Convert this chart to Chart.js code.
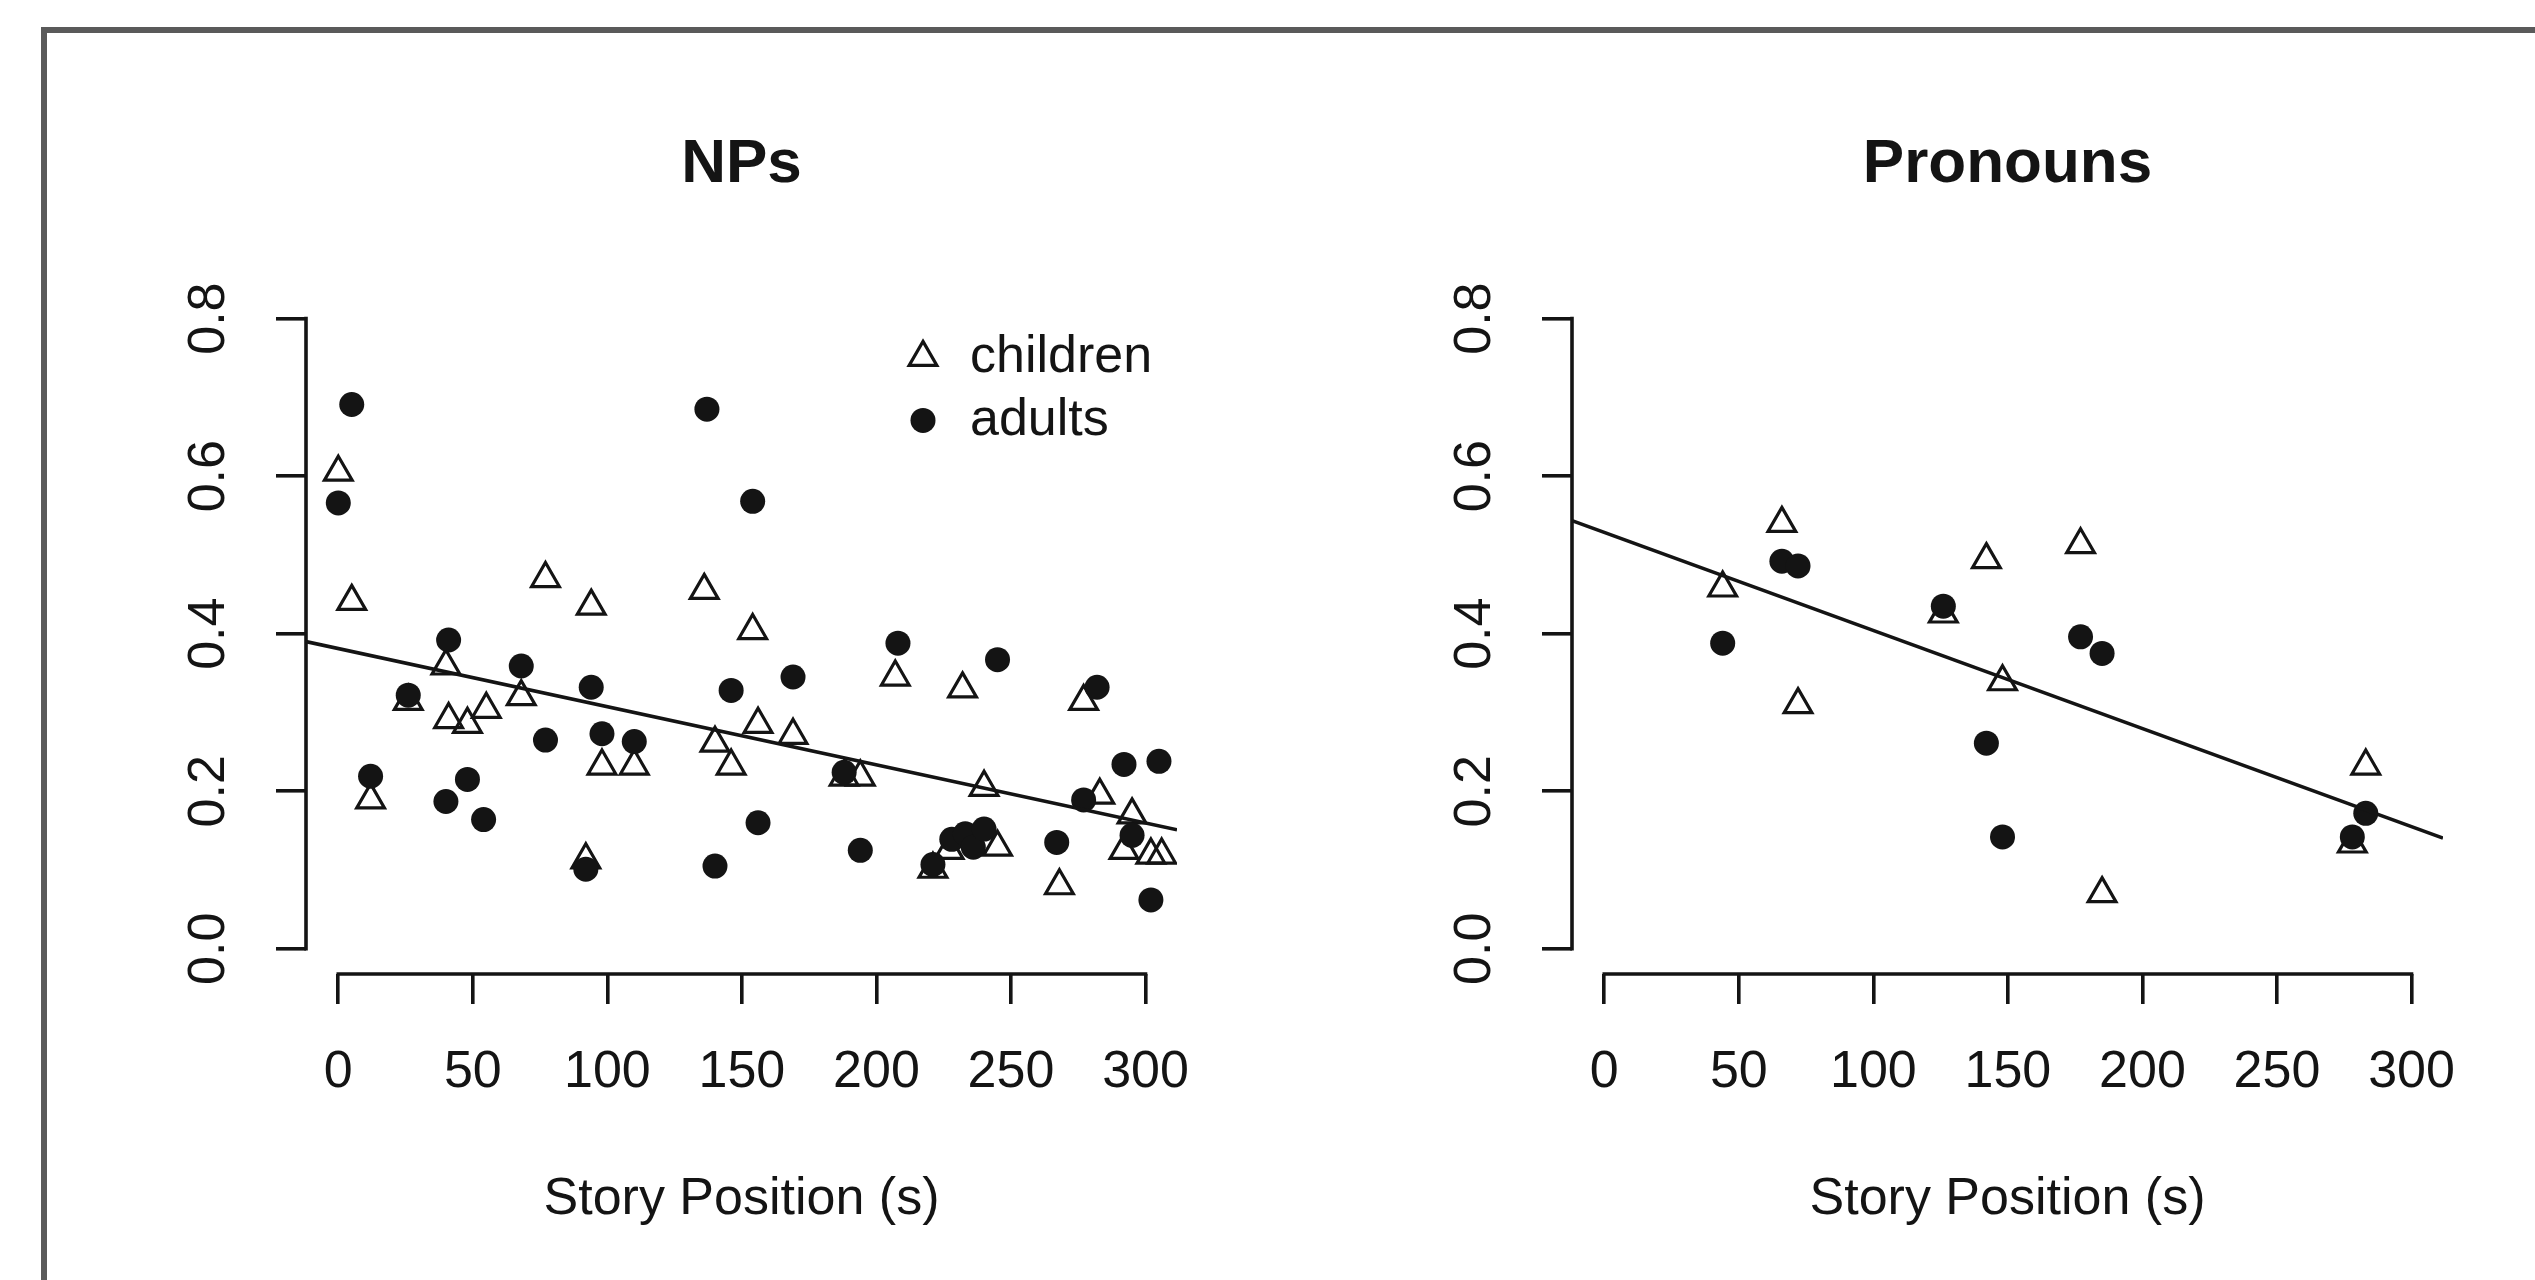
<!DOCTYPE html>
<html><head><meta charset="utf-8">
<script src="https://cdn.jsdelivr.net/npm/chart.js@4/dist/chart.umd.min.js"></script>
<style>
html,body{margin:0;padding:0;background:#fff;width:2535px;height:1280px;overflow:hidden}
#frame{position:absolute;left:41px;top:27px;width:2600px;height:1400px;border-left:6px solid #5a5a5a;border-top:6px solid #5a5a5a;box-sizing:border-box}
.box{position:absolute;top:0;width:1266px;height:1280px}
canvas{display:block}
</style></head><body>
<div id="frame"></div>
<div class="box" style="left:0"><canvas id="c1" width="1266" height="1280"></canvas></div>
<div class="box" style="left:1266px"><canvas id="c2" width="1266" height="1280"></canvas></div>
<script>
// ---- tick labels ----
const xTickValues = [0, 50, 100, 150, 200, 250, 300];
const xTickLabels = ['0', '50', '100', '150', '200', '250', '300'];
const yTickValues = [0, 0.2, 0.4, 0.6, 0.8];
const yTickLabels = ['0.0', '0.2', '0.4', '0.6', '0.8'];
const seriesNames = ['children', 'adults'];
const panelTitles = ['NPs', 'Pronouns'];
const axisTitle = 'Story Position (s)';

// ---- NPs panel ----
const npChildrenX = [0, 5, 12, 26, 40, 41, 48, 55, 68, 77, 94, 92, 98, 110, 136, 140, 146, 154, 156, 169, 188, 194, 207, 221, 227, 232, 240, 245, 268, 277, 283, 292, 295, 302, 306];
const npChildrenY = [0.605, 0.441, 0.189, 0.314, 0.359, 0.291, 0.285, 0.304, 0.320, 0.470, 0.435, 0.113, 0.232, 0.232, 0.455, 0.261, 0.232, 0.404, 0.285, 0.271, 0.218, 0.218, 0.345, 0.101, 0.125, 0.330, 0.205, 0.129, 0.080, 0.314, 0.195, 0.125, 0.170, 0.119, 0.119];
const npAdultsX = [0, 5, 12, 26, 41, 40, 48, 54, 68, 77, 94, 92, 98, 110, 137, 140, 146, 154, 156, 169, 188, 194, 208, 221, 228, 233, 236, 240, 245, 267, 277, 282, 292, 295, 302, 305];
const npAdultsY = [0.566, 0.691, 0.219, 0.322, 0.392, 0.187, 0.215, 0.164, 0.359, 0.265, 0.332, 0.101, 0.273, 0.263, 0.685, 0.105, 0.328, 0.568, 0.160, 0.345, 0.224, 0.125, 0.388, 0.107, 0.139, 0.146, 0.129, 0.152, 0.367, 0.135, 0.189, 0.332, 0.234, 0.144, 0.062, 0.238];
const npFitX = [-12, 311.7];
const npFitY = [0.390, 0.151];

// ---- Pronouns panel ----
const prChildrenX = [44, 66, 72, 126, 142, 148, 177, 185, 278, 283];
const prChildrenY = [0.458, 0.540, 0.310, 0.425, 0.494, 0.339, 0.513, 0.070, 0.133, 0.232];
const prAdultsX = [44, 66, 72, 126, 142, 148, 177, 185, 278, 283];
const prAdultsY = [0.388, 0.492, 0.486, 0.435, 0.261, 0.142, 0.396, 0.375, 0.142, 0.172];
const prFitX = [-12, 311.7];
const prFitY = [0.5435, 0.1405];

const FONT = "'Liberation Sans', Arial, Helvetica, sans-serif";
const INK = '#141414';
const LW = 3.6;

function pts(xs, ys) { return xs.map((x, i) => ({ x: x, y: ys[i] })); }

// R-style axis lines spanning first..last tick only
const axisLines = {
  id: 'axisLines',
  afterDraw(chart) {
    const ctx = chart.ctx, xs = chart.scales.x, ys = chart.scales.y, a = chart.chartArea;
    ctx.save();
    ctx.strokeStyle = INK; ctx.lineWidth = LW; ctx.lineCap = 'square';
    ctx.beginPath();
    ctx.moveTo(xs.getPixelForValue(xTickValues[0]), a.bottom);
    ctx.lineTo(xs.getPixelForValue(xTickValues[xTickValues.length - 1]), a.bottom);
    ctx.moveTo(a.left, ys.getPixelForValue(yTickValues[0]));
    ctx.lineTo(a.left, ys.getPixelForValue(yTickValues[yTickValues.length - 1]));
    ctx.stroke();
    ctx.restore();
  }
};

// legend drawn inside the plot area (top right), like R's legend(bty="n")
const cornerLegend = {
  id: 'cornerLegend',
  afterDraw(chart, args, opts) {
    if (!opts.show) return;
    const ctx = chart.ctx, a = chart.chartArea;
    const items = chart.data.datasets.filter(d => d.inLegend);
    ctx.save();
    ctx.font = '52px ' + FONT;
    ctx.textBaseline = 'middle';
    ctx.textAlign = 'left';
    items.forEach((d, i) => {
      const mx = a.right - opts.markerFromRight;
      const my = a.top + opts.firstRow + i * opts.rowGap;
      ctx.lineWidth = d.pointBorderWidth || 0;
      ctx.strokeStyle = d.borderColor;
      ctx.fillStyle = d.backgroundColor;
      const r = d.pointRadius;
      ctx.beginPath();
      if (d.pointStyle === 'triangle') {
        ctx.moveTo(mx, my - r);
        ctx.lineTo(mx + 0.8660254 * r, my + 0.5 * r);
        ctx.lineTo(mx - 0.8660254 * r, my + 0.5 * r);
        ctx.closePath();
        ctx.stroke();
      } else {
        ctx.arc(mx, my, r, 0, Math.PI * 2);
        ctx.fill();
      }
      ctx.fillStyle = INK;
      ctx.fillText(d.label, a.right - opts.textFromRight, my);
    });
    ctx.restore();
  }
};

function makeChart(id, title, cx, cy, ax, ay, fx, fy, showLegend) {
  const tickFont = { family: FONT, size: 52 };
  return new Chart(document.getElementById(id), {
    type: 'scatter',
    data: {
      datasets: [
        { label: seriesNames[0], data: pts(cx, cy), pointStyle: 'triangle', pointRadius: 16, pointHoverRadius: 16,
          borderWidth: LW, pointBorderWidth: 3.2, borderColor: INK, backgroundColor: 'rgba(0,0,0,0)', order: 2, inLegend: true },
        { label: seriesNames[1], data: pts(ax, ay), pointStyle: 'circle', pointRadius: 12.5, pointHoverRadius: 12.5,
          borderWidth: 0, pointBorderWidth: 0, borderColor: INK, backgroundColor: INK, order: 1, inLegend: true },
        { label: 'fit', data: pts(fx, fy), showLine: true, pointRadius: 0, pointHoverRadius: 0, borderWidth: LW,
          borderColor: INK, backgroundColor: INK, fill: false, order: 0 }
      ]
    },
    options: {
      responsive: false, animation: false, devicePixelRatio: 1,
      events: [],
      layout: { padding: { left: 0, right: 89, top: 0, bottom: 0 } },
      plugins: {
        legend: { display: false },
        tooltip: { enabled: false },
        title: { display: true, text: title, fullSize: false, color: INK,
          font: { family: FONT, size: 62, weight: 'bold', lineHeight: 1.2 }, padding: { top: 128, bottom: 91 } },
        cornerLegend: { show: showLegend, markerFromRight: 254, textFromRight: 207, firstRow: 64, rowGap: 63 }
      },
      scales: {
        x: {
          type: 'linear', min: -12, max: 311.7,
          afterBuildTicks: s => { s.ticks = xTickValues.map(v => ({ value: v })); },
          afterFit: s => { s.height = 306; },
          ticks: { callback: (v, i) => xTickLabels[i], font: tickFont, color: INK, padding: 37, maxRotation: 0, minRotation: 0, autoSkip: false },
          grid: { display: true, drawOnChartArea: false, drawTicks: true, tickLength: 30, color: INK, lineWidth: LW },
          border: { display: false },
          title: { display: true, text: axisTitle, color: INK, font: { family: FONT, size: 52, lineHeight: 1.2 }, padding: { top: 0, bottom: 49 } }
        },
        y: {
          type: 'linear', min: -0.032, max: 0.832,
          afterBuildTicks: s => { s.ticks = yTickValues.map(v => ({ value: v })); },
          afterFit: s => { s.width = 306; },
          ticks: { callback: (v, i) => yTickLabels[i], font: tickFont, color: INK, padding: 30, minRotation: 90, maxRotation: 90, crossAlign: 'center', autoSkip: false },
          grid: { display: true, drawOnChartArea: false, drawTicks: true, tickLength: 30, color: INK, lineWidth: LW },
          border: { display: false }
        }
      }
    },
    plugins: [axisLines, cornerLegend]
  });
}

makeChart('c1', panelTitles[0], npChildrenX, npChildrenY, npAdultsX, npAdultsY, npFitX, npFitY, true);
makeChart('c2', panelTitles[1], prChildrenX, prChildrenY, prAdultsX, prAdultsY, prFitX, prFitY, false);
</script>
</body></html>
